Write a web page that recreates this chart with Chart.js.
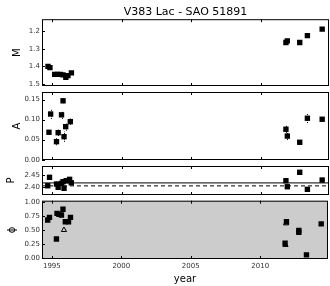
<!DOCTYPE html>
<html>
<head>
<meta charset="utf-8">
<script src="https://cdn.jsdelivr.net/npm/chart.js@4.4.0/dist/chart.umd.min.js"></script>
<style>
  body { margin: 0; overflow: hidden; background: #fff; }
  #wrap { position: relative; width: 330px; height: 286px; overflow: hidden; }
  canvas { position: absolute; left: 0; top: 0; }
</style>
</head>
<body>
<div id="wrap">
  <canvas id="cM" width="333" height="286"></canvas>
  <canvas id="cA" width="333" height="286"></canvas>
  <canvas id="cP" width="333" height="286"></canvas>
  <canvas id="cPhi" width="333" height="286"></canvas>
</div>
<script>
// ---- data ----
const yearTicks = [1995, 2000, 2005, 2010];
const yearMin = 1994.29, yearMax = 2014.88;

const mYear = [1994.72, 1994.86, 1995.2, 1995.4, 1995.6, 1995.8, 1996.0, 1996.15, 1996.4, 2011.79, 2011.89, 2012.78, 2013.33, 2014.39];
const mVal  = [1.400, 1.407, 1.445, 1.445, 1.445, 1.448, 1.462, 1.452, 1.437, 1.265, 1.256, 1.265, 1.226, 1.189];
const mTicks = [1.2, 1.3, 1.4, 1.5];

const aYear = [1994.79, 1994.91, 1995.33, 1995.45, 1995.69, 1995.8, 1995.87, 1995.99, 1996.32, 2011.79, 2011.89, 2012.78, 2013.33, 2014.39];
const aVal  = [0.0685, 0.114, 0.045, 0.0675, 0.112, 0.147, 0.0575, 0.0825, 0.095, 0.076, 0.059, 0.0435, 0.1035, 0.101];
const aErr  = [0.004, 0.012, 0.009, 0.008, 0.01, 0.006, 0.013, 0.01, 0.008, 0.009, 0.01, 0.004, 0.012, 0.004];
const aTicks = [0.00, 0.05, 0.10, 0.15];

const pYear = [1994.7, 1994.83, 1995.33, 1995.45, 1995.69, 1995.8, 1995.87, 1996.03, 1996.27, 1996.39, 2011.79, 2011.89, 2012.78, 2013.33, 2014.39];
const pVal  = [2.4065, 2.4407, 2.4134, 2.400, 2.416, 2.423, 2.396, 2.427, 2.4325, 2.4187, 2.427, 2.4025, 2.461, 2.392, 2.4297];
const pErr  = [0.006, 0.01, 0.01, 0.008, 0.006, 0.006, 0.01, 0.006, 0.006, 0.006, 0.004, 0.004, 0.01, 0.004, 0.004];
const pTicks = [2.40, 2.45];
const pLineSolid = 2.418;
const pLineDashed = 2.406;

const phiYear = [1994.7, 1994.83, 1995.33, 1995.37, 1995.51, 1995.69, 1995.8, 1995.97, 1996.2, 1996.34, 2011.79, 2011.89, 2012.78, 2012.78, 2013.33, 2014.39];
const phiVal  = [0.68, 0.729, 0.3375, 0.80, 0.783, 0.77, 0.874, 0.65, 0.65, 0.729, 0.26, 0.65, 0.46, 0.49, 0.05, 0.61];
const phiTriYear = [1995.87, 2011.82, 2011.86];
const phiTriVal  = [0.50, 0.23, 0.62];
const phiTicks = [0.00, 0.25, 0.50, 0.75, 1.00];

Chart.defaults.font.family = "'DejaVu Sans', sans-serif";

function pts(xs, ys) { return xs.map((x, i) => ({x: x, y: ys[i]})); }

// frame, inward ticks, error bars and optional grey face
const framePlugin = {
  id: 'frame',
  beforeDatasetsDraw(chart, args, opts) {
    const a = chart.chartArea, ctx = chart.ctx;
    if (opts.face) {
      ctx.save();
      ctx.fillStyle = opts.face;
      ctx.fillRect(a.left, a.top, a.right - a.left, a.bottom - a.top);
      ctx.restore();
    }
    const ds = chart.data.datasets[0];
    if (ds.errors) {
      const xs = chart.scales.x, ys = chart.scales.y;
      ctx.save();
      ctx.strokeStyle = '#000';
      ctx.lineWidth = 1;
      ctx.setLineDash([1, 1]);
      ctx.beginPath();
      ds.data.forEach((p, i) => {
        const e = ds.errors[i];
        if (!e) return;
        const x = Math.round(xs.getPixelForValue(p.x)) + 0.5;
        ctx.moveTo(x, ys.getPixelForValue(p.y - e));
        ctx.lineTo(x, ys.getPixelForValue(p.y + e));
      });
      ctx.stroke();
      ctx.restore();
    }
  },
  afterDatasetsDraw(chart) {
    const a = chart.chartArea, ctx = chart.ctx;
    const xs = chart.scales.x, ys = chart.scales.y;
    ctx.save();
    ctx.strokeStyle = '#000';
    ctx.lineWidth = 1;
    ctx.strokeRect(a.left + 0.5, a.top + 0.5, a.right - a.left - 1, a.bottom - a.top - 1);
    ctx.beginPath();
    yearTicks.forEach(v => {
      const x = Math.round(xs.getPixelForValue(v)) + 0.5;
      ctx.moveTo(x, a.top); ctx.lineTo(x, a.top + 3);
      ctx.moveTo(x, a.bottom); ctx.lineTo(x, a.bottom - 3);
    });
    ys.ticks.forEach(t => {
      const y = Math.round(ys.getPixelForValue(t.value)) + 0.5;
      ctx.moveTo(a.left, y); ctx.lineTo(a.left + 3, y);
    });
    ctx.stroke();
    ctx.restore();
  }
};

function panel(id, c) {
  const sq = {
    type: 'scatter', data: pts(c.xs, c.ys), errors: c.err, pointStyle: 'rect', pointRadius: 3.8,
    backgroundColor: '#000', borderWidth: 0
  };
  const datasets = [sq].concat(c.extra || []);
  return new Chart(document.getElementById(id), {
    type: 'scatter',
    data: { datasets: datasets },
    options: {
      responsive: false, animation: false, events: [],
      layout: { padding: { top: c.top, bottom: c.bottom, left: 0, right: 0 } },
      plugins: {
        legend: { display: false }, tooltip: { enabled: false },
        title: c.title ? {
          display: true, text: c.title, fullSize: false, color: '#000',
          font: { size: 11, weight: 'normal' }, padding: { top: 6, bottom: 0 }
        } : { display: false },
        frame: { face: c.face }
      },
      scales: {
        x: {
          type: 'linear', min: yearMin, max: yearMax, display: !!c.showX,
          afterBuildTicks: s => { s.ticks = yearTicks.map(v => ({value: v})); },
          afterFit: s => { if (c.showX) s.height = 27; },
          grid: { display: false, drawTicks: false }, border: { display: false },
          ticks: { font: { size: 7 }, color: '#333', padding: 3, maxRotation: 0, callback: v => String(v) },
          title: { display: !!c.showX, text: 'year', color: '#000', font: { size: 10 }, padding: { top: 0, bottom: 1 } }
        },
        y: {
          type: 'linear', min: c.min, max: c.max, reverse: !!c.reverse,
          afterBuildTicks: s => { s.ticks = c.ticks.map(v => ({value: v})); },
          afterFit: s => { s.width = 42; },
          grid: { display: false, drawTicks: false }, border: { display: false },
          ticks: { font: { size: 7 }, color: '#333', padding: 2, callback: v => v.toFixed(c.dec) },
          title: { display: true, text: c.label, color: '#000', font: { size: 10 }, padding: { top: c.labelPad, bottom: 0 } }
        }
      }
    },
    plugins: [framePlugin]
  });
}

panel('cM', {
  xs: mYear, ys: mVal, ticks: mTicks, dec: 1, min: 1.133, max: 1.511, reverse: true,
  label: 'M', labelPad: 11.5, top: 0, bottom: 200, title: 'V383 Lac - SAO 51891'
});

panel('cA', {
  xs: aYear, ys: aVal, err: aErr, ticks: aTicks, dec: 2, min: -0.00075, max: 0.169,
  label: 'A', labelPad: 11, top: 92, bottom: 126
});

panel('cP', {
  xs: pYear, ys: pVal, err: pErr, ticks: pTicks, dec: 2, min: 2.369, max: 2.4866,
  label: 'P', labelPad: 5.7, top: 166, bottom: 91,
  extra: [
    { type: 'line', data: [{x: yearMin, y: pLineSolid}, {x: yearMax, y: pLineSolid}],
      borderColor: '#000', borderWidth: 1, pointRadius: 0 },
    { type: 'line', data: [{x: yearMin, y: pLineDashed}, {x: yearMax, y: pLineDashed}],
      borderColor: '#000', borderWidth: 1, borderDash: [4, 3], pointRadius: 0 }
  ]
});

panel('cPhi', {
  xs: phiYear, ys: phiVal, ticks: phiTicks, dec: 2, min: -0.0235, max: 1.029,
  label: 'ϕ', labelPad: 6, top: 200.7, bottom: 0, showX: true, face: '#cccccc',
  extra: [
    { type: 'scatter', data: pts(phiTriYear, phiTriVal), pointStyle: 'triangle', pointRadius: 3,
      backgroundColor: 'rgba(0,0,0,0)', borderColor: '#000', borderWidth: 1 }
  ]
});
</script>
</body>
</html>
